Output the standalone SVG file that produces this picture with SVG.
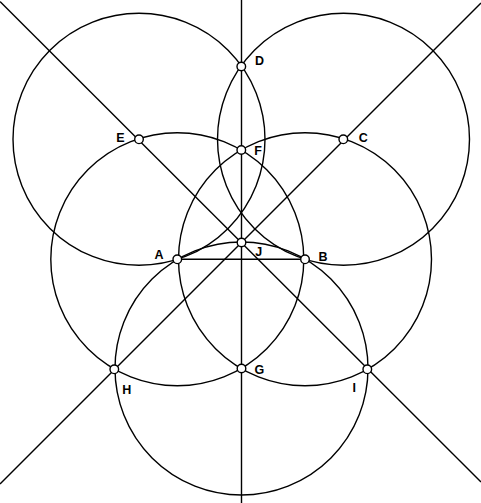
<svg xmlns="http://www.w3.org/2000/svg" width="481" height="503" viewBox="0 0 481 503">
<style>
.c{fill:none;stroke:#000;stroke-width:1.4}
.l{stroke:#000;stroke-width:1.4}
.p{fill:#fff;stroke:#000;stroke-width:1.4}
.t{font-family:"Liberation Sans",Arial,sans-serif;font-weight:bold;font-size:12.5px;fill:#000}
</style>
<rect width="481" height="503" fill="#fff"/>
<g id="connectors">
<circle class="c" cx="139" cy="139.3" r="126"/>
<circle class="c" cx="343.5" cy="139.3" r="126"/>
<circle class="c" cx="177.3" cy="259.3" r="126.5"/>
<circle class="c" cx="305" cy="259.3" r="126.5"/>
<circle class="c" cx="241.5" cy="368.5" r="126.5"/>
<line class="l" x1="241.5" y1="0" x2="241.5" y2="503"/>
<line class="l" x1="0" y1="1.5" x2="481" y2="482"/>
<line class="l" x1="0" y1="484" x2="481" y2="3"/>
<line class="l" x1="177.3" y1="259.3" x2="305" y2="259.3"/>
</g>
<g id="D"><circle class="p" cx="241.3" cy="66.5" r="4.3"/><text class="t" x="255" y="65">D</text></g>
<g id="E"><circle class="p" cx="139" cy="139.3" r="4.3"/><text class="t" x="116.3" y="142">E</text></g>
<g id="C"><circle class="p" cx="343.3" cy="139.3" r="4.3"/><text class="t" x="358.8" y="141.8">C</text></g>
<g id="F"><circle class="p" cx="241.3" cy="150" r="4.3"/><text class="t" x="254.3" y="155">F</text></g>
<g id="J"><circle class="p" cx="241.5" cy="242.5" r="4.3"/><text class="t" x="255.3" y="255.5">J</text></g>
<g id="A"><circle class="p" cx="177.3" cy="259.3" r="4.3"/><text class="t" x="154.6" y="259.3">A</text></g>
<g id="B"><circle class="p" cx="305" cy="259.3" r="4.3"/><text class="t" x="318.6" y="261">B</text></g>
<g id="H"><circle class="p" cx="114.3" cy="369.3" r="4.3"/><text class="t" x="122.2" y="394">H</text></g>
<g id="G"><circle class="p" cx="241.5" cy="368.5" r="4.3"/><text class="t" x="254.6" y="373.5">G</text></g>
<g id="I"><circle class="p" cx="367.3" cy="369.3" r="4.3"/><text class="t" x="352.6" y="391.7">I</text></g>
</svg>
